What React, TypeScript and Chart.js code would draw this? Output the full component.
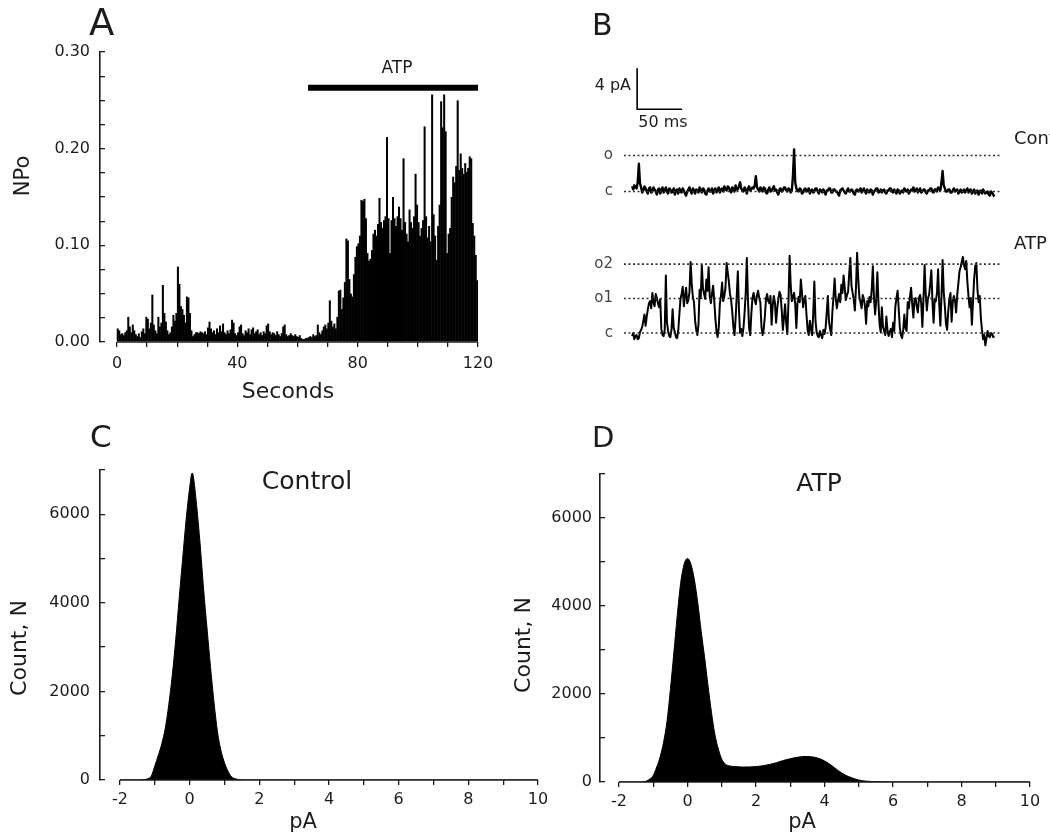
import React, { useEffect, useRef } from 'react';
import { Chart, registerables } from 'chart.js';

Chart.register(...registerables);

const FONT = '"DejaVu Sans", "Liberation Sans", sans-serif';
const INK = '#1c1c1c';
Chart.defaults.font.family = FONT;

// ---------------- Panel A : NPo vs time (0.5 s bins) ----------------
const A_BIN_S = 0.5;
const A_NPO = [
  0.014, 0.012, 0.008, 0.009, 0.007, 0.010, 0.012, 0.026, 0.016, 0.010, 0.018, 0.012, 0.008, 0.006, 0.009, 0.005, 0.011, 0.014, 0.009, 0.026,
  0.024, 0.014, 0.020, 0.049, 0.018, 0.012, 0.009, 0.026, 0.016, 0.020, 0.059, 0.030, 0.021, 0.012, 0.008, 0.010, 0.016, 0.028, 0.022, 0.030,
  0.078, 0.060, 0.037, 0.034, 0.028, 0.020, 0.047, 0.046, 0.030, 0.012, 0.006, 0.008, 0.010, 0.010, 0.009, 0.011, 0.010, 0.009, 0.011, 0.008,
  0.015, 0.021, 0.014, 0.010, 0.012, 0.008, 0.014, 0.010, 0.017, 0.011, 0.019, 0.010, 0.008, 0.012, 0.009, 0.013, 0.023, 0.020, 0.009, 0.007,
  0.010, 0.016, 0.018, 0.009, 0.007, 0.012, 0.010, 0.014, 0.008, 0.013, 0.015, 0.009, 0.011, 0.013, 0.008, 0.010, 0.007, 0.011, 0.009, 0.017,
  0.019, 0.011, 0.008, 0.010, 0.009, 0.007, 0.011, 0.008, 0.006, 0.009, 0.016, 0.018, 0.008, 0.006, 0.007, 0.009, 0.007, 0.006, 0.008, 0.006,
  0.005, 0.007, 0.004, 0.003, 0.003, 0.004, 0.004, 0.005, 0.006, 0.005, 0.008, 0.006, 0.007, 0.018, 0.010, 0.008, 0.012, 0.016, 0.018, 0.014,
  0.020, 0.043, 0.022, 0.016, 0.019, 0.014, 0.026, 0.053, 0.054, 0.034, 0.046, 0.062, 0.107, 0.105, 0.065, 0.050, 0.047, 0.070, 0.088, 0.099,
  0.102, 0.110, 0.147, 0.146, 0.148, 0.128, 0.092, 0.084, 0.086, 0.095, 0.112, 0.116, 0.110, 0.122, 0.149, 0.124, 0.118, 0.126, 0.130, 0.212,
  0.128, 0.092, 0.126, 0.150, 0.128, 0.120, 0.130, 0.140, 0.128, 0.116, 0.190, 0.124, 0.112, 0.104, 0.137, 0.124, 0.118, 0.130, 0.174, 0.142,
  0.124, 0.110, 0.118, 0.126, 0.223, 0.130, 0.108, 0.120, 0.104, 0.256, 0.132, 0.110, 0.085, 0.120, 0.142, 0.249, 0.222, 0.256, 0.218, 0.092,
  0.112, 0.118, 0.150, 0.171, 0.165, 0.182, 0.250, 0.178, 0.195, 0.180, 0.174, 0.185, 0.176, 0.180, 0.192, 0.190, 0.123, 0.110, 0.090, 0.064,
];
const A_X_TICKS = [0, 10, 20, 30, 40, 50, 60, 70, 80, 90, 100, 110, 120];
const A_X_LABELED = [0, 40, 80, 120];
const A_Y_TICKS = [0, 0.025, 0.05, 0.075, 0.1, 0.125, 0.15, 0.175, 0.2, 0.225, 0.25, 0.275, 0.3];
const A_Y_LABELED = [0, 0.1, 0.2, 0.3];
const A_ATP_SPAN = [63.5, 120];
const A_ATP_LEVEL = 0.263;

// ---------------- Panel B : single-channel traces (1.25 ms samples, pA) ----------------
const B_SAMPLE_MS = 1.25;
const B_CONTROL = [
  0.5, 0.2, 0.6, 0.4, 0.3, 0.9, 2.7, 0.8, 0.4, -0.1, 0.1, 0.5, 0.3, 0.0, -0.2, 0.3, 0.4, -0.1, 0.0, 0.4,
  0.2, 0.0, -0.3, 0.2, 0.3, -0.2, 0.1, 0.4, -0.1, 0.1, 0.4, 0.0, -0.2, 0.3, 0.2, -0.1, 0.0, 0.3, -0.3, 0.1,
  0.2, -0.2, 0.3, 0.0, -0.1, 0.3, 0.1, -0.2, -0.4, 0.0, 0.2, 0.4, 0.0, -0.2, 0.3, 0.1, -0.2, 0.2, 0.1, -0.1,
  0.4, 0.1, -0.1, 0.3, 0.2, -0.2, -0.3, 0.1, 0.3, 0.0, 0.0, 0.3, -0.2, 0.1, 0.3, -0.1, 0.1, 0.4, -0.1, 0.2,
  0.3, 0.0, 0.5, 0.2, 0.1, 0.5, 0.4, 0.1, -0.1, 0.4, 0.3, 0.0, 0.6, 0.2, 0.2, 0.5, 0.9, 0.3, 0.1, 0.0,
  0.4, 0.2, -0.2, 0.3, 0.5, 0.1, 0.2, 0.4, 0.3, 0.6, 1.5, 0.4, 0.2, 0.0, 0.4, 0.2, 0.0, 0.4, 0.3, -0.1,
  -0.2, 0.2, 0.4, 0.0, 0.1, 0.3, 0.5, 0.1, 0.2, -0.1, -0.3, 0.2, 0.3, 0.0, 0.1, 0.4, 0.4, 0.1, 0.0, 0.3,
  0.2, -0.1, 0.1, 1.6, 4.1, 0.9, 0.3, 0.1, 0.0, 0.3, 0.2, -0.2, -0.1, 0.2, 0.3, 0.0, 0.1, 0.3, -0.2, 0.1,
  0.2, -0.1, 0.0, 0.3, 0.3, 0.0, -0.2, 0.2, 0.1, -0.1, 0.2, 0.0, -0.3, 0.1, 0.1, 0.3, 0.3, -0.1, -0.1, 0.2,
  0.2, 0.0, 0.0, -0.2, -0.4, 0.1, 0.2, 0.3, 0.1, -0.1, -0.2, 0.1, 0.3, 0.0, 0.0, 0.2, 0.1, -0.2, -0.3, 0.1,
  0.2, 0.0, 0.1, 0.3, -0.1, 0.1, 0.3, 0.0, -0.2, 0.2, 0.0, -0.1, 0.2, 0.1, -0.3, 0.0, 0.1, 0.3, 0.3, -0.1,
  0.0, 0.2, -0.1, 0.1, 0.2, -0.1, -0.2, 0.1, 0.1, 0.3, 0.3, 0.0, -0.1, 0.2, 0.0, -0.2, 0.2, 0.1, -0.2, 0.0,
  0.1, -0.1, 0.3, 0.1, 0.0, 0.2, -0.2, 0.0, 0.2, 0.1, 0.4, 0.0, 0.1, 0.3, -0.1, 0.1, 0.3, -0.1, 0.0, 0.2,
  0.2, -0.1, -0.2, 0.1, 0.1, 0.3, 0.3, 0.0, -0.1, 0.2, 0.2, 0.0, 0.4, 0.2, 0.1, 0.9, 2.0, 0.6, 0.3, 0.0,
  0.0, 0.2, 0.2, -0.1, -0.1, 0.1, 0.3, 0.0, 0.1, 0.2, -0.2, 0.0, 0.2, -0.1, 0.0, 0.2, -0.1, 0.1, 0.3, -0.1,
  0.1, 0.2, -0.2, 0.0, 0.2, -0.2, 0.0, 0.1, -0.3, 0.0, 0.1, -0.2, 0.2, 0.0, -0.2, -0.1, 0.0, -0.3, -0.4, 0.0,
  -0.1, -0.3, -0.5,
];
const B_ATP = [
  -0.3, 0.0, -0.6, -0.3, -0.2, -0.6, -0.5, 0.1, 0.3, 0.6, 1.2, 1.8, 0.7, 1.6, 2.3, 2.9, 3.1, 2.4, 3.9, 3.0,
  2.6, 3.8, 3.4, 2.9, 2.5, 3.3, 0.4, -0.2, -0.3, 0.3, 5.6, 1.0, 0.2, -0.3, -0.4, 0.3, 2.3, 0.5, 0.1, -0.4,
  -0.5, 0.2, 1.8, 3.3, 3.8, 4.5, 2.6, 3.6, 4.4, 2.9, 3.2, 4.0, 6.9, 4.8, 3.5, 3.0, 1.2, 0.3, -0.2, 0.8,
  4.2, 3.4, 6.6, 4.3, 3.8, 3.3, 5.2, 4.1, 6.4, 3.6, 2.9, 3.8, 4.6, 3.2, 1.4, 0.2, -0.4, 0.5, 2.8, 3.6,
  4.9, 3.1, 3.6, 4.4, 6.8, 5.9, 5.0, 3.8, 3.2, 2.1, 0.6, -0.2, 1.4, 3.6, 6.0, 2.2, 0.0, 0.4, -0.3, 0.5,
  2.0, 3.9, 7.3, 3.2, 0.5, -0.2, 1.9, 3.4, 3.9, 3.2, 2.8, 3.7, 4.1, 3.4, 3.0, 0.6, -0.2, 0.4, 1.6, 3.3,
  3.8, 3.1, 2.9, 3.6, 0.8, 2.7, 3.6, 2.9, 1.0, 2.4, 3.3, 4.0, 3.7, 2.2, 0.3, 1.5, 2.8, 0.9, -0.1, 3.0,
  7.5, 4.6, 3.1, 3.5, 3.9, 2.8, 0.5, 2.9, 3.5, 3.0, 5.2, 3.9, 2.5, 3.3, 3.6, 1.8, 0.3, -0.2, 1.2, 0.4,
  -0.2, 1.9, 5.0, 1.2, 0.1, -0.3, -0.4, 0.2, -0.2, -0.5, 0.3, -0.1, 0.5, 2.0, 3.6, 1.1, 0.4, -0.2, 2.0, 3.5,
  5.3, 3.4, 2.4, 3.2, 3.8, 3.0, 4.7, 3.9, 5.6, 4.4, 3.2, 3.7, 4.0, 5.8, 7.3, 4.6, 3.9, 3.3, 2.2, 4.4,
  7.8, 5.3, 3.5, 3.0, 2.4, 3.7, 3.3, 2.6, 0.9, 3.1, 2.6, 3.5, 3.0, 4.2, 6.5, 3.4, 1.8, 3.2, 5.9, 2.9,
  0.8, 0.1, 2.5, 0.6, 0.2, -0.2, 1.6, 0.3, -0.3, 0.1, 0.4, -0.4, 1.0, 0.2, 2.6, 3.4, 4.1, 2.3, 0.5, -0.2,
  -0.5, 0.3, 1.8, 0.5, 0.2, 3.0, 2.4, 3.5, 4.4, 2.8, 1.5, 3.2, 3.4, 2.6, 2.0, 3.4, 3.7, 2.9, 0.6, 3.3,
  6.6, 3.8, 2.2, 3.4, 3.7, 4.8, 6.1, 3.0, 1.0, 3.3, 3.1, 3.9, 6.2, 2.8, 0.7, 3.5, 7.1, 4.0, 2.6, 0.9,
  0.3, 2.1, 3.3, 3.9, 1.1, 3.0, 3.6, 3.2, 2.0, 3.7, 4.8, 6.0, 6.4, 6.9, 7.4, 6.6, 6.2, 7.0, 5.0, 3.6,
  2.5, 3.4, 0.8, 3.0, 5.2, 6.5, 6.8, 4.2, 3.0, 3.6, 1.5, 0.3, -0.6, -0.2, -1.2, -0.5, 0.2, -0.3, -0.4, 0.0,
  -0.1, -0.4, -0.3,
];
const B_CONTROL_LEVELS = [0, 3.5];
const B_CONTROL_NAMES = ['c', 'o'];
const B_ATP_LEVELS = [0, 3.35, 6.7];
const B_ATP_NAMES = ['c', 'o1', 'o2'];
const B_DOT_SPAN = [-9, 411];
const B_BAR_T0 = 5.6;
const B_BAR_MS = 50;
const B_BAR_BASE = 8;
const B_BAR_PA = 4;

// ---------------- Panels C & D : amplitude histograms ----------------
const C_PA = [-2, -1.5, -1.3, -1.2, -1.1, -1.0, -0.9, -0.8, -0.7, -0.6, -0.5, -0.4, -0.3, -0.2, -0.1, 0.0, 0.07, 0.1, 0.2, 0.3, 0.4, 0.5, 0.6, 0.7, 0.8, 0.9, 1.0, 1.1, 1.2, 1.3, 1.4, 1.6, 2.0, 10];
const C_COUNT = [0, 0, 10, 30, 90, 320, 560, 820, 1170, 1700, 2360, 3170, 4110, 5010, 5890, 6600, 6930, 6880, 6200, 5330, 4310, 3410, 2540, 1750, 1080, 660, 390, 200, 75, 30, 12, 0, 0, 0];
const D_PA = [-2, -1.4, -1.2, -1.1, -1.0, -0.9, -0.8, -0.7, -0.6, -0.5, -0.4, -0.3, -0.2, -0.1, 0.0, 0.1, 0.2, 0.3, 0.4, 0.5, 0.6, 0.7, 0.8, 0.9, 1.0, 1.1, 1.2, 1.4, 1.6, 1.8, 2.0, 2.2, 2.4, 2.6, 2.8, 3.0, 3.2, 3.4, 3.6, 3.8, 4.0, 4.2, 4.4, 4.6, 4.8, 5.0, 5.2, 5.6, 6.0, 10];
const D_COUNT = [0, 0, 20, 70, 150, 340, 570, 900, 1370, 2100, 2930, 3780, 4520, 4950, 5080, 4950, 4600, 4070, 3420, 2830, 2180, 1580, 1080, 750, 520, 410, 370, 350, 340, 342, 350, 370, 400, 440, 490, 530, 560, 580, 575, 545, 480, 380, 260, 160, 95, 45, 20, 5, 0, 0];
const H_X_TICKS = [-2, -1, 0, 1, 2, 3, 4, 5, 6, 7, 8, 9, 10];
const H_X_LABELED = [-2, 0, 2, 4, 6, 8, 10];
const H_Y_TICKS = [0, 1000, 2000, 3000, 4000, 5000, 6000, 7000];
const H_Y_LABELED = [0, 2000, 4000, 6000];

// ---------------- helpers ----------------
type TextItem = { text: string; x: number; y: number; size: number; align?: CanvasTextAlign; baseline?: CanvasTextBaseline; rotate?: number; color?: string };

function makeTextPlugin(items: TextItem[]) {
  return {
    id: 'panelText',
    afterDraw(chart: any) {
      const ctx = chart.ctx;
      for (const it of items) {
        ctx.save();
        ctx.font = `${it.size}px ${FONT}`;
        ctx.fillStyle = it.color || INK;
        ctx.textAlign = it.align || 'center';
        ctx.textBaseline = it.baseline || 'middle';
        ctx.translate(it.x, it.y);
        if (it.rotate) ctx.rotate((it.rotate * Math.PI) / 180);
        ctx.fillText(it.text, 0, 0);
        ctx.restore();
      }
    },
  };
}

function makeAxisSpan(min: number, max: number) {
  return {
    id: 'axisSpan',
    afterDatasetsDraw(chart: any) {
      const xs = chart.scales.x;
      const y = chart.chartArea.bottom;
      const ctx = chart.ctx;
      ctx.save();
      ctx.strokeStyle = INK;
      ctx.lineWidth = 1.6;
      ctx.beginPath();
      ctx.moveTo(xs.getPixelForValue(min), y);
      ctx.lineTo(xs.getPixelForValue(max), y);
      ctx.stroke();
      ctx.restore();
    },
  };
}

function zeroPad(s: any) {
  s.paddingTop = 0;
  s.paddingBottom = 0;
  s.paddingLeft = 0;
  s.paddingRight = 0;
}
const fixWidth = (w: number) => (s: any) => { s.width = w; zeroPad(s); };
const fixHeight = (h: number) => (s: any) => { s.height = h; zeroPad(s); };
const setTicks = (vals: number[]) => (s: any) => { s.ticks = vals.map((v) => ({ value: v })); };

function baseOptions(padding: any) {
  return {
    responsive: false,
    animation: false,
    events: [],
    layout: { padding, autoPadding: false },
    plugins: { legend: { display: false }, tooltip: { enabled: false }, title: { display: false } },
  };
}

function bottomAxis(min: number, max: number, ticks: number[], labeled: number[], height: number, padding: number) {
  return {
    type: 'linear',
    min,
    max,
    offset: false,
    afterBuildTicks: setTicks(ticks),
    afterFit: fixHeight(height),
    border: { display: false },
    grid: { display: true, drawOnChartArea: false, offset: false, drawTicks: true, tickLength: 5, color: INK, lineWidth: 1.3 },
    ticks: {
      autoSkip: false,
      maxRotation: 0,
      padding,
      color: INK,
      font: { size: 16, family: FONT },
      callback: (v: number) => (labeled.includes(v) ? String(v) : ''),
    },
  };
}

function leftAxis(min: number, max: number, ticks: number[], labeled: number[], fmt: (v: number) => string, padding: number) {
  return {
    type: 'linear',
    min,
    max,
    afterBuildTicks: setTicks(ticks),
    afterFit: fixWidth(100),
    border: { display: true, color: INK, width: 1.6 },
    grid: { display: true, drawOnChartArea: false, drawTicks: true, tickLength: -5, color: INK, lineWidth: 1.3 },
    ticks: {
      autoSkip: false,
      padding,
      color: INK,
      font: { size: 16, family: FONT },
      callback: (v: number) => (labeled.includes(v) ? fmt(v) : ''),
    },
  };
}

// ---------------- chart configs ----------------
function configA() {
  return {
    type: 'bar',
    data: {
      datasets: [
        {
          type: 'bar',
          data: A_NPO.map((v, i) => ({ x: i * A_BIN_S + A_BIN_S / 2, y: v })),
          backgroundColor: '#000',
          borderWidth: 0,
          barPercentage: 1.35,
          categoryPercentage: 1,
        },
        {
          type: 'line',
          data: A_ATP_SPAN.map((x) => ({ x, y: A_ATP_LEVEL })),
          borderColor: '#000',
          borderWidth: 6,
          pointRadius: 0,
          borderCapStyle: 'butt',
        },
      ],
    },
    options: {
      ...baseOptions({ left: 0, top: 52, right: 42, bottom: 0 }),
      scales: {
        x: bottomAxis(-5.65, 120, A_X_TICKS, A_X_LABELED, 68, 7),
        y: leftAxis(0, 0.3, A_Y_TICKS, A_Y_LABELED, (v) => v.toFixed(2), 15),
      },
    },
    plugins: [
      makeAxisSpan(0, 120),
      makeTextPlugin([
        { text: 'A', x: 89, y: 35, size: 37, align: 'left', baseline: 'alphabetic' },
        { text: 'ATP', x: 397, y: 69, size: 17 },
        { text: 'NPo', x: 24, y: 176, size: 21, rotate: -90 },
        { text: 'Seconds', x: 288, y: 392, size: 22 },
      ]),
    ],
  };
}

function dotted(level: number) {
  return {
    data: B_DOT_SPAN.map((x) => ({ x, y: level })),
    borderColor: '#333',
    borderWidth: 1.6,
    borderDash: [2, 2.5],
    pointRadius: 0,
  };
}

function traceDataset(values: number[], width: number) {
  return {
    data: values.map((v, i) => ({ x: i * B_SAMPLE_MS, y: v })),
    borderColor: '#000',
    borderWidth: width,
    pointRadius: 0,
    tension: 0,
    borderJoinStyle: 'round',
  };
}

function levelAxis(min: number, max: number, levels: number[], names: string[]) {
  return {
    type: 'linear',
    min,
    max,
    afterBuildTicks: setTicks(levels),
    afterFit: fixWidth(64),
    border: { display: false },
    grid: { display: false, drawTicks: false },
    ticks: {
      autoSkip: false,
      padding: 11,
      color: '#444',
      font: { size: 15, family: FONT },
      callback: (v: number) => names[levels.indexOf(v)] ?? '',
    },
  };
}

function configBControl() {
  return {
    type: 'line',
    data: {
      datasets: [
        ...B_CONTROL_LEVELS.map(dotted),
        traceDataset(B_CONTROL, 2.4),
        {
          data: [
            { x: B_BAR_T0, y: B_BAR_BASE + B_BAR_PA },
            { x: B_BAR_T0, y: B_BAR_BASE },
            { x: B_BAR_T0 + B_BAR_MS, y: B_BAR_BASE },
          ],
          borderColor: '#000',
          borderWidth: 1.6,
          pointRadius: 0,
          borderJoinStyle: 'miter',
        },
      ],
    },
    options: {
      ...baseOptions({ left: 0, top: 60, right: 48, bottom: 5 }),
      scales: {
        x: { type: 'linear', display: false, min: B_DOT_SPAN[0], max: B_DOT_SPAN[1] },
        y: levelAxis(-1.8, 12.8, B_CONTROL_LEVELS, B_CONTROL_NAMES),
      },
    },
    plugins: [
      makeTextPlugin([
        { text: 'B', x: 32, y: 35, size: 30, align: 'left', baseline: 'alphabetic' },
        { text: '4 pA', x: 71, y: 86, size: 16, align: 'right' },
        { text: '50 ms', x: 103, y: 123, size: 16 },
        { text: 'Control', x: 454, y: 139, size: 18, align: 'left' },
      ]),
    ],
  };
}

function configBAtp() {
  return {
    type: 'line',
    data: { datasets: [...B_ATP_LEVELS.map(dotted), traceDataset(B_ATP, 2.0)] },
    options: {
      ...baseOptions({ left: 0, top: 25, right: 48, bottom: 10 }),
      scales: {
        x: { type: 'linear', display: false, min: B_DOT_SPAN[0], max: B_DOT_SPAN[1] },
        y: levelAxis(-1.65, 9.04, B_ATP_LEVELS, B_ATP_NAMES),
      },
    },
    plugins: [makeTextPlugin([{ text: 'ATP', x: 454, y: 29, size: 18, align: 'left' }])],
  };
}

function configHist(xs: number[], ns: number[], xMin: number, padding: any, xHeight: number, yPad: number, texts: TextItem[]) {
  return {
    type: 'line',
    data: {
      datasets: [
        {
          data: xs.map((x, i) => ({ x, y: ns[i] })),
          fill: 'origin',
          backgroundColor: '#000',
          borderColor: '#000',
          borderWidth: 1,
          pointRadius: 0,
          cubicInterpolationMode: 'monotone',
        },
      ],
    },
    options: {
      ...baseOptions(padding),
      scales: {
        x: bottomAxis(xMin, 10, H_X_TICKS, H_X_LABELED, xHeight, 5),
        y: leftAxis(0, 7000, H_Y_TICKS, H_Y_LABELED, (v) => String(v), yPad),
      },
    },
    plugins: [makeAxisSpan(-2, 10), makeTextPlugin(texts)],
  };
}

function configC() {
  return configHist(C_PA, C_COUNT, -2.574, { left: 0, top: 60, right: 22, bottom: 0 }, 55, 15, [
    { text: 'C', x: 90, y: 37, size: 31, align: 'left', baseline: 'alphabetic' },
    { text: 'Control', x: 307, y: 72, size: 25 },
    { text: 'Count, N', x: 20, y: 238, size: 22, rotate: -90 },
    { text: 'pA', x: 303, y: 413, size: 21 },
  ]);
}

function configD() {
  return configHist(D_PA, D_COUNT, -2.555, { left: 0, top: 64, right: 20, bottom: 0 }, 53, 13, [
    { text: 'D', x: 92, y: 37, size: 29, align: 'left', baseline: 'alphabetic' },
    { text: 'ATP', x: 319, y: 74, size: 25 },
    { text: 'Count, N', x: 24, y: 235, size: 22, rotate: -90 },
    { text: 'pA', x: 302, y: 413, size: 21 },
  ]);
}

// ---------------- components ----------------
function ChartCanvas({ left, top, width, height, make }: { left: number; top: number; width: number; height: number; make: () => any }) {
  const ref = useRef<HTMLCanvasElement | null>(null);
  useEffect(() => {
    const c = ref.current;
    if (!c) return;
    const chart = new Chart(c, make());
    return () => chart.destroy();
  }, []);
  return (
    <canvas
      ref={ref}
      width={width}
      height={height}
      style={{ position: 'absolute', left, top, width, height, display: 'block' }}
    />
  );
}

export default function App() {
  return (
    <div style={{ position: 'absolute', left: 0, top: 0, width: 1050, height: 835, overflow: 'hidden', background: '#fff' }}>
      <ChartCanvas left={0} top={0} width={520} height={410} make={configA} />
      <ChartCanvas left={560} top={0} width={490} height={215} make={configBControl} />
      <ChartCanvas left={560} top={215} width={490} height={145} make={configBAtp} />
      <ChartCanvas left={0} top={410} width={560} height={425} make={configC} />
      <ChartCanvas left={500} top={410} width={550} height={425} make={configD} />
    </div>
  );
}
